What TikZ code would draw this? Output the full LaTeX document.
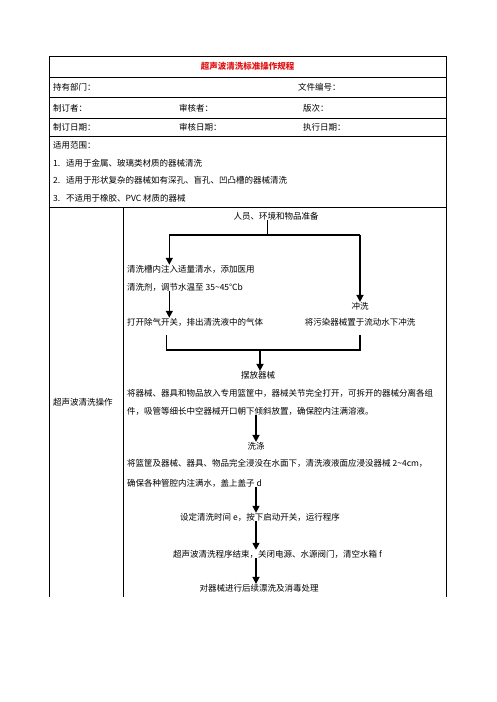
\documentclass[tikz,border=0pt]{standalone}
\usepackage{fontspec}
\setmainfont{Noto Sans CJK SC}
\usetikzlibrary{arrows.meta}
\definecolor{titlered}{RGB}{225,20,20}
\tikzset{
  txt/.style={inner sep=0pt,font=\fontsize{8.5}{10}\selectfont},
  ltxt/.style={txt,anchor=west},
  bar/.style={line width=1.5pt},
  flow/.style={line width=1.5pt,-{Triangle[width=7pt,length=7pt]}},
}

\begin{document}
\begin{tikzpicture}[x=1pt,y=-1pt]
  \useasboundingbox[fill=white] (0,0) rectangle (496,702);
  % table frame
  \draw[line width=0.9pt] (49.3,597)--(49.3,56.3)--(446.3,56.3)--(446.3,597);
  \foreach \y in {77.3,97.7,118.3,136,207.3} \draw[line width=0.9pt] (49.3,\y)--(446.3,\y);
  \draw[line width=0.9pt] (123.3,207.3)--(123.3,597);

  \node[txt,text=titlered,font=\fontsize{8.5}{10}\selectfont\bfseries] (title) at (247.5,66.5) {超声波清洗标准操作规程};
  \node[ltxt] (dept) at (53,87.5) {持有部门：};
  \node[ltxt] (fileno) at (298,87.5) {文件编号：};
  \node[ltxt] (author) at (53,108) {制订者：};
  \node[ltxt] (checker) at (179,108) {审核者：};
  \node[ltxt] (version) at (303,108) {版次：};
  \node[ltxt] (date) at (53,127) {制订日期：};
  \node[ltxt] (checkdate) at (179,127) {审核日期：};
  \node[ltxt] (rundate) at (303,127) {执行日期：};
  \node[ltxt] (scope) at (53,145) {适用范围：};
  \node[ltxt] (scopeA) at (53,163) {1.\hspace{0.7em}适用于金属、玻璃类材质的器械清洗};
  \node[ltxt] (scopeB) at (53,180.5) {2.\hspace{0.7em}适用于形状复杂的器械如有深孔、盲孔、凹凸槽的器械清洗};
  \node[ltxt] (scopeC) at (53,198) {3.\hspace{0.7em}不适用于橡胶、PVC 材质的器械};
  \node[ltxt] (oplabel) at (53,402) {超声波清洗操作};

  % flow steps
  \node[txt] (prep) at (276,216) {人员、环境和物品准备};
  \node[ltxt] (fillA) at (127,269) {清洗槽内注入适量清水，添加医用};
  \node[ltxt] (fillB) at (127,287) {清洗剂，调节水温至 35\textasciitilde45℃b};
  \node[ltxt] (degas) at (127,322) {打开除气开关，排出清洗液中的气体};
  \node[txt] (rinse) at (360,306) {冲洗};
  \node[txt] (rinseB) at (360,322) {将污染器械置于流动水下冲洗};
  \node[txt] (place) at (258,375) {摆放器械};
  \node[ltxt] (placeA) at (127,393) {将器械、器具和物品放入专用篮筐中，器械关节完全打开，可拆开的器械分离各组};
  \node[ltxt] (placeB) at (127,411) {件，吸管等细长中空器械开口朝下倾斜放置，确保腔内注满溶液。};
  \node[txt] (wash) at (256,446) {洗涤};
  \node[ltxt] (washA) at (127,463) {将篮筐及器械、器具、物品完全浸没在水面下，清洗液液面应浸没器械 2\textasciitilde4cm，};
  \node[ltxt] (washB) at (127,483) {确保各种管腔内注满水，盖上盖子 d};
  \node[ltxt] (timer) at (180,517) {设定清洗时间 e，按下启动开关，运行程序};
  \node[ltxt] (finish) at (173,554) {超声波清洗程序结束，关闭电源、水源阀门，清空水箱 f};
  \node[txt] (post) at (259,588) {对器械进行后续漂洗及消毒处理};

  % connectors
  \coordinate (split) at (267.7,235);
  \coordinate (lft) at (169.3,235);
  \coordinate (rgt) at (360,235);
  \draw[bar] (split |- prep.south) -- (split);
  \draw[bar] (lft) -- (rgt);
  \draw[flow] (lft) -- (lft |- fillA.north);
  \draw[flow] (rgt) -- (rinse.north);
  \draw[flow] (lft |- fillB.south) -- (lft |- degas.north);
  \coordinate (ml) at (166.7,335);
  \coordinate (mr) at (360,335);
  \coordinate (jl) at (166.7,350);
  \coordinate (jr) at (360,350);
  \coordinate (jm) at (260,350);
  \draw[bar] (ml) -- (jl) -- (jr) -- (mr);
  \draw[flow] (jm) -- (jm |- place.north);
  \draw[flow] (wash.north |- placeB.south) -- (wash.north);
  \draw[flow] (wash.north |- washB.south) -- (wash.north |- timer.north);
  \draw[flow] (wash.north |- timer.south) -- (wash.north |- finish.north);
  \draw[flow] (wash.north |- finish.south) -- (wash.north |- post.north);
\end{tikzpicture}
\end{document}
